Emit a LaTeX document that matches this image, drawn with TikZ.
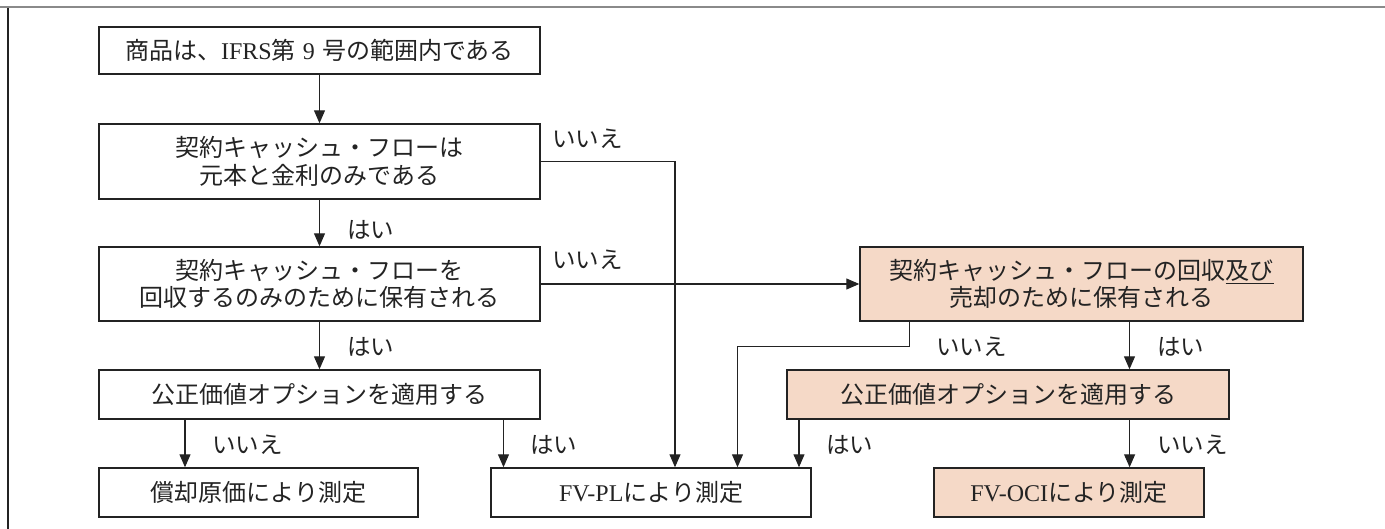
\documentclass[tikz,border=0pt]{standalone}
\usepackage{fontspec}
\setmainfont{Noto Sans CJK JP}
\newfontfamily\latfont{Liberation Serif}
\newcommand{\lat}[1]{{\latfont #1}}
\usetikzlibrary{arrows.meta}
\definecolor{peach}{RGB}{245,217,199}
\definecolor{ink}{RGB}{35,35,35}
\definecolor{framegray}{RGB}{138,138,138}
\begin{document}
\begin{tikzpicture}[x=1pt,y=-1pt,
  box/.style={draw=ink,line width=1.4pt,rectangle,inner sep=0pt,align=center,
    text=ink,font=\fontsize{24}{27.5}\selectfont},
  obox/.style={box,fill=peach},
  conn/.style={draw=ink,line width=1.1pt,-{Triangle[length=13pt,width=11pt]}},
  lbl/.style={anchor=west,inner sep=0pt,text=ink,font=\fontsize{23.5}{27}\selectfont}]
\useasboundingbox (0,0) rectangle (1385,529);
\draw[framegray,line width=2pt] (0,7.5) -- (1385,7.5);
\draw[ink,line width=1.5pt] (8,8) -- (8,529);

\node[box,minimum width=441pt,minimum height=47pt] (b1) at (319.5,50.5)
  {商品は、\lat{IFRS}第\hspace{0.3em}\lat{9}\hspace{0.3em}号の範囲内である};
\node[box,minimum width=441pt,minimum height=75pt] (b2) at (319.5,161.5)
  {契約キャッシュ・フローは\\元本と金利のみである};
\node[box,minimum width=441pt,minimum height=74pt] (b3) at (319.5,284)
  {契約キャッシュ・フローを\\回収するのみのために保有される};
\node[box,minimum width=441pt,minimum height=49pt] (b4) at (319.5,394.5)
  {公正価値オプションを適用する};
\node[box,minimum width=319pt,minimum height=49pt] (b5) at (258.5,492.5)
  {償却原価により測定};
\node[box,minimum width=320pt,minimum height=49pt] (fvpl) at (651,492.5)
  {\lat{FV-PL}により測定};
\node[obox,minimum width=443pt,minimum height=74pt] (o1) at (1081.5,284)
  {契約キャッシュ・フローの回収\underline{及び}\\売却のために保有される};
\node[obox,minimum width=442pt,minimum height=49pt] (o2) at (1008,394.5)
  {公正価値オプションを適用する};
\node[obox,minimum width=270pt,minimum height=49pt] (oci) at (1069,492.5)
  {\lat{FV-OCI}により測定};

\draw[conn] (b1) -- (b2);
\draw[conn] (b2) -- (b3);
\draw[conn] (b3) -- (b4);
\draw[conn] (b2.east) -| ([xshift=24pt]fvpl.north);
\draw[conn] (b3) -- (o1);
\draw[conn] ([xshift=-134.5pt]b4.south) -- ([xshift=-134.5pt]b4.south |- b5.north);
\draw[conn] ([xshift=184pt]b4.south) -- ([xshift=184pt]b4.south |- fvpl.north);
\draw[conn] ([xshift=-172pt]o1.south) -- ++(0,25) -| ([xshift=86.5pt]fvpl.north);
\draw[conn] ([xshift=48pt]o1.south) -- ([xshift=48pt]o1.south |- o2.north);
\draw[conn] ([xshift=-209pt]o2.south) -- ([xshift=-209pt]o2.south |- fvpl.north);
\draw[conn] ([xshift=121.6pt]o2.south) -- ([xshift=121.6pt]o2.south |- oci.north);

\node[lbl] (l1) at (552,139) {いいえ};
\node[lbl] (l2) at (347,230) {はい};
\node[lbl] (l3) at (552,260) {いいえ};
\node[lbl] (l4) at (347,347) {はい};
\node[lbl] (l5) at (212,445) {いいえ};
\node[lbl] (l6) at (530,445) {はい};
\node[lbl] (l7) at (936,347) {いいえ};
\node[lbl] (l8) at (1157,347) {はい};
\node[lbl] (l9) at (826,445) {はい};
\node[lbl] (l10) at (1157,445) {いいえ};
\end{tikzpicture}
\end{document}
